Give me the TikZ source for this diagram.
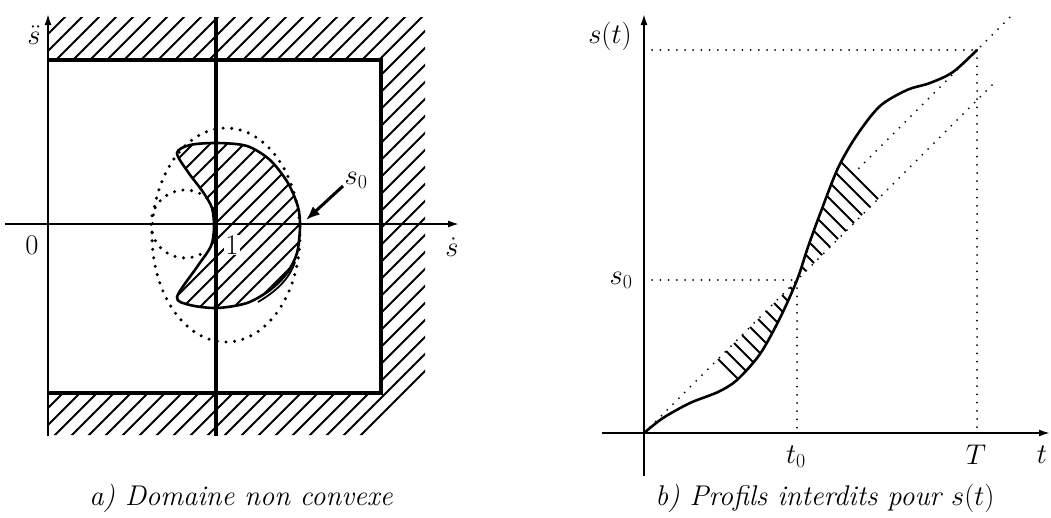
\RequirePackage{fix-cm}
\documentclass[tikz,border=0pt]{standalone}
\usetikzlibrary{arrows.meta}
\begin{document}
\begin{tikzpicture}[x=1pt,y=-1pt,
  axis/.style={line width=1.8pt,-{Latex[length=11pt,width=7pt]}},
  thickline/.style={line width=4pt,line join=miter},
  bigdots/.style={line width=3.4pt,line cap=round,dash pattern=on 0pt off 8.6pt},
  smalldots/.style={line width=2pt,line cap=round,dash pattern=on 0pt off 8.2pt},
  hatchline/.style={line width=1.8pt},
  curveline/.style={line width=2.6pt},
  lbl/.style={font=\fontsize{28.5}{32}\selectfont,inner sep=1pt},
  captext/.style={font=\fontsize{28.5}{32}\selectfont\itshape,inner sep=0pt,anchor=base},
]
\useasboundingbox (0,0) rectangle (1051,517);

% ---------------- left diagram ----------------
\coordinate (Hx0) at (5,224);
\coordinate (Hx1) at (459,224);
\coordinate (Vy0) at (48,436);
\coordinate (Vy1) at (48,14);
\coordinate (B1) at (216,17);
\coordinate (B2) at (216,436);
\coordinate (C1) at (48,60);
\coordinate (C2) at (381,60);
\coordinate (C3) at (381,393);
\coordinate (C4) at (48,393);

\begin{scope}
  \clip (48,17) -- (425,17) -- (425,385) -- (375,435) -- (48,435) -- (48,393) -- (381,393) -- (381,60) -- (48,60) -- cycle;
  \foreach \c in {65,82,...,870} \draw[hatchline] (\c,0) -- ({\c-520},520);
\end{scope}

\def\crescent{plot[smooth cycle] coordinates {(177,153) (190,145) (217,143) (247,146) (270,160) (288,183) (298,207) (300,227) (297,253) (287,273) (270,290) (247,303) (217,308) (190,305) (177,297) (197,267) (211,246) (214,227) (212,208) (203,192) (188,172)}}
\begin{scope}
  \clip \crescent;
  \foreach \c in {320,337,...,640} \draw[hatchline] (\c,0) -- ({\c-520},520);
\end{scope}
\draw[curveline] \crescent;
\draw[line width=1.8pt] (258,302) .. controls (275,292) and (289,280) .. (295,262);

\draw[bigdots] (226,235) ellipse [x radius=74pt, y radius=107pt];
\draw[bigdots] (185,224) ++(50:34pt) arc[start angle=50,end angle=310,radius=34pt];

\draw[axis] (Hx0) -- (Hx1);
\draw[axis] (Vy0) -- (Vy1);
\draw[thickline] (C1) -- (C2) -- (C3) -- (C4);
\draw[thickline] (B1) -- (B2);

\coordinate (s0tail) at (343,186);
\coordinate (s0head) at (306,220);
\draw[line width=3pt,-{Latex[length=14pt,width=11pt]}] (s0tail) -- (s0head);

\node[lbl] (lsdd) at (34,35) {$\ddot{s}$};
\node[lbl] (lsd) at (452,247) {$\dot{s}$};
\node[lbl] (lzero) at (32,245) {$0$};
\node[lbl,fill=white] (lone) at (232,245) {$1$};
\node[lbl] (ls0a) at (356,180) {$s_0$};

% ---------------- right diagram ----------------
\coordinate (O) at (644,433);
\coordinate (Vb) at (644,476);
\coordinate (Vt) at (644,14);
\coordinate (Hl) at (602,433);
\coordinate (Hr) at (1050,433);
\coordinate (PT) at (977,50);
\coordinate (P0) at (797,280);
\coordinate (ST) at (644,50);
\coordinate (S0) at (644,280);
\coordinate (TT) at (977,433);
\coordinate (T0) at (797,433);
\coordinate (D1) at (993,84);
\coordinate (D2a) at (853,174);
\coordinate (D2b) at (1010,17);

\draw[smalldots] (ST) -- (PT);
\draw[smalldots] (PT) -- (TT);
\draw[smalldots] (S0) -- (P0);
\draw[smalldots] (P0) -- (T0);
\draw[smalldots] (O) -- (D1);
\draw[smalldots] (D2a) -- (D2b);

\def\scurve{plot[smooth] coordinates {(644,433) (663,418) (690,403) (718,392) (737,380) (760,354) (780,318) (797,280) (808,247) (820,214) (838,168) (857,135) (880,106) (907,90) (930,83) (953,72) (977,50)}}
\begin{scope}
  \clip \scurve -- (977,100) -- cycle;
  \foreach \c in {359,375,...,679} \draw[hatchline] (600,{600-\c}) -- (1000,{1000-\c});
\end{scope}
\draw[curveline] \scurve;

\draw[axis] (Hl) -- (Hr);
\draw[axis] (Vb) -- (Vt);

\node[lbl] (lst) at (610,36) {$s(t)$};
\node[lbl] (ls0b) at (621,280) {$s_0$};
\node[lbl] (lt0) at (796,457) {$t_0$};
\node[lbl] (lT) at (976,455) {$T$};
\node[lbl] (lt) at (1042,455) {$t$};

\node[captext] (capa) at (241,505) {a) Domaine non convexe};
\node[captext] (capb) at (825,505) {b) Profils interdits pour $s(t)$};
\end{tikzpicture}
\end{document}
